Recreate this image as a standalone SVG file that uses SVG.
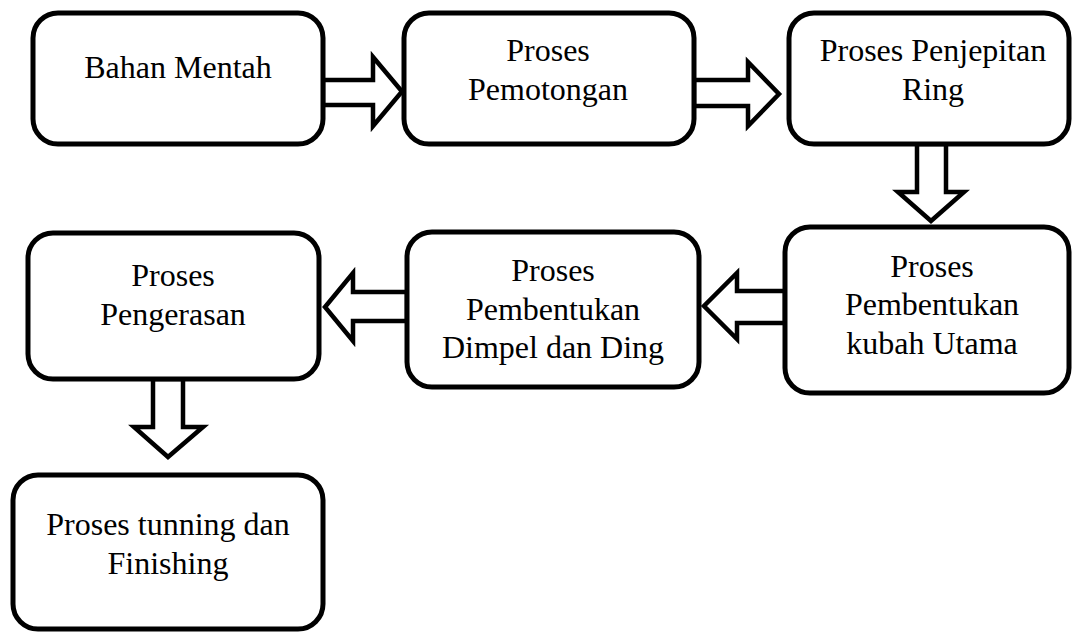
<svg xmlns="http://www.w3.org/2000/svg" width="1072" height="634" viewBox="0 0 1072 634">
<style>
.box{fill:#fff;stroke:#000;stroke-width:5}
.arr{fill:#fff;stroke:#000;stroke-width:4.5;stroke-linejoin:miter}
.t{font-family:'Liberation Serif','Times New Roman',Tinos,Times,'DejaVu Serif',serif;font-size:32px;fill:#000;text-anchor:middle}
</style>
<rect width="1072" height="634" fill="#fff"/>
<g id="connectors">
<path class="arr" d="M323,80 H373 V57 L402,91.5 L373,126 V105 H323 Z"/>
<path class="arr" d="M694,80 H748 V62 L779,94 L748,126 V106 H694 Z"/>
<path class="arr" d="M917,144 V192 H898 L931,221 L964,192 H946 V144 Z"/>
<path class="arr" d="M785,291 H737 V273 L704,306 L737,339 V323 H785 Z"/>
<path class="arr" d="M407,292 H353 V273 L325,307 L353,341 V321 H407 Z"/>
<path class="arr" d="M153,379 V427 H134 L168,457 L203,427 H183 V379 Z"/>
</g>
<g id="n1"><rect class="box" x="33" y="13" width="290" height="131" rx="25"/><text class="t" x="178" y="78">Bahan Mentah</text></g>
<g id="n2"><rect class="box" x="404" y="13" width="290" height="131" rx="25"/><text class="t" x="548" y="61">Proses</text><text class="t" x="548" y="100">Pemotongan</text></g>
<g id="n3"><rect class="box" x="789" y="13" width="280" height="131" rx="25"/><text class="t" x="933" y="61">Proses Penjepitan</text><text class="t" x="933" y="100">Ring</text></g>
<g id="n4"><rect class="box" x="785" y="227" width="284" height="166" rx="25"/><text class="t" x="932" y="277">Proses</text><text class="t" x="932" y="315">Pembentukan</text><text class="t" x="932" y="354">kubah Utama</text></g>
<g id="n5"><rect class="box" x="407" y="232" width="292" height="155" rx="25"/><text class="t" x="553" y="281">Proses</text><text class="t" x="553" y="320">Pembentukan</text><text class="t" x="553" y="358">Dimpel dan Ding</text></g>
<g id="n6"><rect class="box" x="28" y="233" width="291" height="146" rx="25"/><text class="t" x="173" y="286">Proses</text><text class="t" x="173" y="325">Pengerasan</text></g>
<g id="n7"><rect class="box" x="13" y="475" width="310" height="154" rx="25"/><text class="t" x="168" y="535">Proses tunning dan</text><text class="t" x="168" y="574">Finishing</text></g>
</svg>
